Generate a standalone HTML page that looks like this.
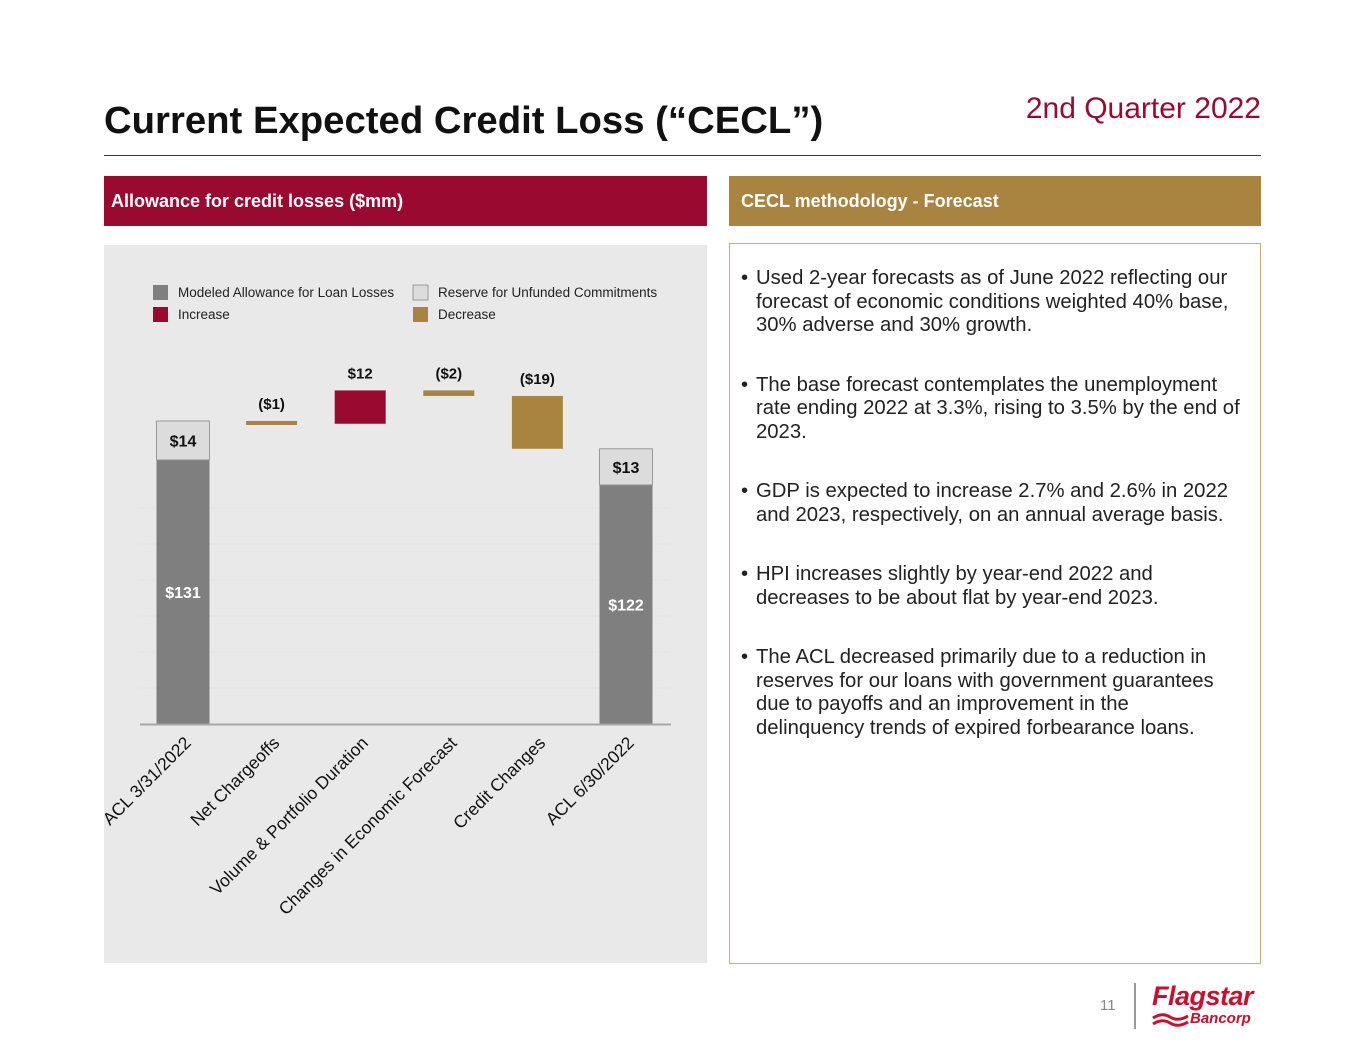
<!DOCTYPE html>
<html><head><meta charset="utf-8"><style>
body{margin:0;width:1365px;height:1055px;background:#fff;font-family:"Liberation Sans",Arial,sans-serif;position:relative;overflow:hidden}
.abs{position:absolute}
ul{margin:0;padding:0;list-style:none}
li{position:relative;padding-left:26px;font-size:20.3px;line-height:23.5px;color:#222;margin-bottom:36px}
li:before{content:"•";position:absolute;left:11px;top:0}
</style></head><body>
<div class="abs" style="left:104px;top:99px;font-size:38.3px;font-weight:bold;color:#111">Current Expected Credit Loss (“CECL”)</div>
<div class="abs" style="right:104px;top:92px;font-size:30px;color:#9a0a30">2nd Quarter 2022</div>
<div class="abs" style="left:104px;top:155px;width:1157px;height:1px;background:#9a0a30"></div>
<div class="abs" style="left:104px;top:176px;width:603px;height:50px;background:#9a0a30;color:#fff;font-weight:bold;font-size:18px;line-height:50px;padding-left:7px;box-sizing:border-box">Allowance for credit losses ($mm)</div>
<div class="abs" style="left:729px;top:176px;width:532px;height:50px;background:#a98441;color:#fff;font-weight:bold;font-size:18px;line-height:50px;padding-left:12px;box-sizing:border-box">CECL methodology - Forecast</div>
<div class="abs" style="left:729px;top:243px;width:532px;height:721px;border:1px solid #c7ad7a;box-sizing:border-box;padding:23px 18px 0 0">
<ul>
<li>Used 2-year forecasts as of June 2022 reflecting our forecast of economic conditions weighted 40% base, 30% adverse and 30% growth.</li>
<li>The base forecast contemplates the unemployment rate ending 2022 at 3.3%, rising to 3.5% by the end of 2023.</li>
<li>GDP is expected to increase 2.7% and 2.6% in 2022 and 2023, respectively, on an annual average basis.</li>
<li>HPI increases slightly by year-end 2022 and decreases to be about flat by year-end 2023.</li>
<li>The ACL decreased primarily due to a reduction in reserves for our loans with government guarantees due to payoffs and an improvement in the delinquency trends of expired forbearance loans.</li>
</ul></div>
<svg class="abs" style="left:0;top:0" width="1365" height="1055" id="chart">
<rect x="104" y="245" width="603" height="718" fill="#e9e9e9"/>
</svg>
<div class="abs" style="left:1100px;top:997px;font-size:15px;color:#888">11</div>
<div class="abs" style="left:1134px;top:983px;width:2px;height:46px;background:#999"></div>
<div class="abs" style="left:1152px;top:982px;color:#c8102e;font-weight:bold;font-style:italic">
<div style="font-size:27px;line-height:28px;letter-spacing:-0.5px">Flagstar</div>
<div style="font-size:15px;margin-left:38px;line-height:18px">Bancorp</div>
<svg class="abs" style="left:0;top:30px" width="38" height="16"><path d="M1 6 Q10 0 18 5 T36 4 M1 12 Q10 6 18 11 T36 10" stroke="#c8102e" stroke-width="3" fill="none"/></svg>
</div>
<script>
const categories=["ACL 3/31/2022","Net Chargeoffs","Volume & Portfolio Duration","Changes in Economic Forecast","Credit Changes","ACL 6/30/2022"];
const allowance=[131,null,null,null,null,122];
const unfunded=[14,null,null,null,null,13];
const changes=[null,-1,12,-2,-19,null];
const changeLabels=["","($1)","$12","($2)","($19)",""];
const axisMin=[36];
const svg=document.getElementById('chart');
const NS="http://www.w3.org/2000/svg";
const baseY=724, scale=2.78, x0=183, step=88.6, bw=53;
function y(v){return baseY-(v-axisMin[0])*scale;}
function xc(i){return x0+i*step;}
function el(t,a){const e=document.createElementNS(NS,t);for(const k in a)e.setAttribute(k,a[k]);svg.appendChild(e);return e;}
[1,2,3,4,5,6].forEach(k=>{const g=el('line',{x1:140,x2:670,y1:baseY-k*36,y2:baseY-k*36,stroke:'#e2e2e2','stroke-width':1});

});
let run=0;
categories.forEach((c,i)=>{
 const cx=xc(i);
 if(allowance[i]!=null){
  const a=allowance[i],u=unfunded[i];
  const r1=el('rect',{x:cx-bw/2,y:y(a),width:bw,height:baseY-y(a),fill:'#7f7f7f'});
  
  
  const r2=el('rect',{x:cx-bw/2,y:y(a+u),width:bw,height:u*scale,fill:'#dcdcdc',stroke:'#999','stroke-width':1});
  
  
  const t1=el('text',{x:cx,y:(y(a)+baseY)/2+6,'text-anchor':'middle','font-size':16,'font-weight':'bold',fill:'#fff'});t1.textContent='$'+a;
  
  
  const t2=el('text',{x:cx,y:y(a+u/2)+6,'text-anchor':'middle','font-size':16,'font-weight':'bold',fill:'#111'});t2.textContent='$'+u;
  
  
  run=a+u;
 } else {
  const d=changes[i];const nxt=run+d;
  const top=y(Math.max(run,nxt));let h=Math.abs(d)*scale;if(h<4)h=4;
  const r=el('rect',{x:cx-bw/2+1,y:top,width:bw-2,height:h,fill:d>0?'#9a0a30':'#a98441'});
  
  
  const t=el('text',{x:cx,y:top-12,'text-anchor':'middle','font-size':15,'font-weight':'bold',fill:'#111'});t.textContent=changeLabels[i];
  
  
  run=nxt;
 }
 const lab=el('text',{x:cx+9,y:744,'text-anchor':'end','font-size':17.5,fill:'#111',transform:`rotate(-45 ${cx+9} 744)`});
 lab.textContent=c;
 
 
});
const ax=el('line',{x1:140,x2:671,y1:baseY+0.5,y2:baseY+0.5,stroke:'#a6a6a6','stroke-width':2});


const legend=[["Modeled Allowance for Loan Losses","#7f7f7f",153,292],["Reserve for Unfunded Commitments","#dcdcdc",413,292],["Increase","#9a0a30",153,314],["Decrease","#a98441",413,314]];
legend.forEach(l=>{
 const r=el('rect',{x:l[2],y:l[3]-7,width:15,height:15,fill:l[1],stroke:l[1]=='#dcdcdc'?'#999':'none'});
 
 
 const t=el('text',{x:l[2]+25,y:l[3]+5,'font-size':13.5,fill:'#222'});t.textContent=l[0];
 
 
});
</script>
</body></html>
